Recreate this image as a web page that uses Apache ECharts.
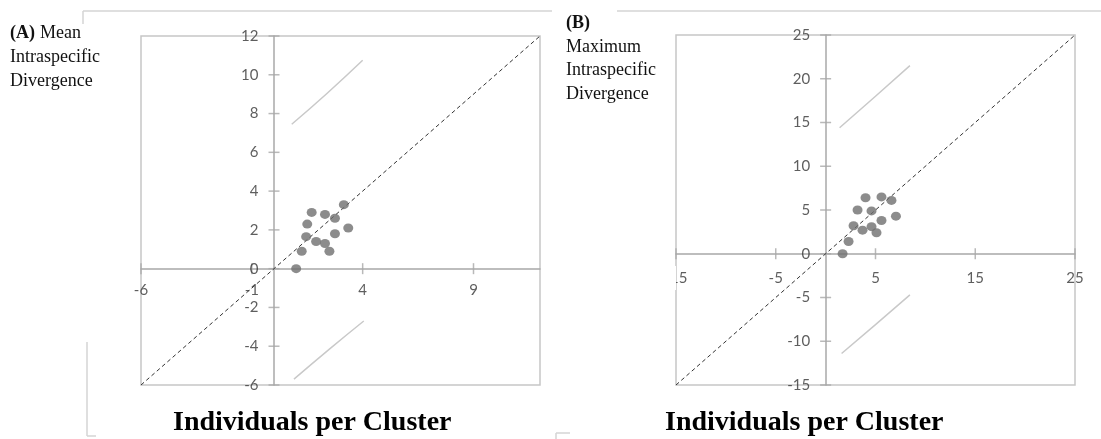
<!DOCTYPE html>
<html>
<head>
<meta charset="utf-8">
<script src="https://cdn.jsdelivr.net/npm/echarts@6/dist/echarts.min.js"></script>
<style>
  html, body { margin: 0; padding: 0; background: #fff; }
  #chart { width: 1101px; height: 439px; }
</style>
</head>
<body>
<div id="chart"></div>
<script>
// (A) mean intraspecific divergence vs individuals per cluster
const meanPoints = [[1.0, 0], [1.25, 0.9], [1.45, 1.65], [1.5, 2.3], [1.7, 2.9], [1.9, 1.4], [2.3, 2.8],
  [2.3, 1.3], [2.5, 0.9], [2.75, 2.6], [2.75, 1.8], [3.15, 3.3], [3.35, 2.1]];
const meanUpperBand = [[0.8, 7.45], [2.4, 9.05], [4.0, 10.75]];
const meanLowerBand = [[0.9, -5.7], [2.5, -4.15], [4.05, -2.7]];
const meanXTicks = [-6, -1, 4, 9];
const meanYTicks = [-6, -4, -2, 0, 2, 4, 6, 8, 10, 12];
const meanRange = [-6, 12];

// (B) maximum intraspecific divergence vs individuals per cluster
const maxPoints = [[1.7, 0], [2.3, 1.4], [2.8, 3.2], [3.2, 5.0], [3.7, 2.7], [4.0, 6.4], [4.6, 4.9],
  [4.6, 3.1], [5.1, 2.4], [5.6, 6.5], [5.6, 3.8], [6.6, 6.1], [7.05, 4.3]];
const maxUpperBand = [[1.4, 14.4], [5.0, 18.0], [8.45, 21.5]];
const maxLowerBand = [[1.6, -11.4], [5.0, -8.1], [8.45, -4.7]];
const maxXTicks = [-15, -5, 5, 15, 25];
const maxYTicks = [-15, -10, -5, 0, 5, 10, 15, 20, 25];
const maxRange = [-15, 25];

const xTitle = 'Individuals per Cluster';

const AXIS_COLOR = '#a8a8a8';
const LABEL_FONT = { fontFamily: 'Lato', fontSize: 15, color: '#363636' };

function makeAxes(idx, range, xTicks, yTicks) {
  const common = {
    gridIndex: idx, type: 'value', min: range[0], max: range[1],
    splitLine: { show: false }, axisTick: { show: false }, axisLabel: { show: false },
    axisLine: { onZero: true, lineStyle: { color: AXIS_COLOR, width: 1.5 } }
  };
  return {
    x: Object.assign({}, common, { interval: xTicks[1] - xTicks[0] }),
    y: Object.assign({}, common, { interval: yTicks[1] - yTicks[0] })
  };
}

function makeSeries(idx, range, points, upper, lower, xTicks, yTicks, xLabelGap) {
  const base = { xAxisIndex: idx, yAxisIndex: idx, silent: true, animation: false };
  return [
    // 1:1 reference line
    Object.assign({}, base, {
      type: 'line', data: [[range[0], range[0]], [range[1], range[1]]], symbol: 'none',
      lineStyle: { color: '#333', width: 1, type: [4, 3] }, z: 3
    }),
    Object.assign({}, base, {
      type: 'line', data: upper, symbol: 'none', smooth: true,
      lineStyle: { color: '#c9c9c9', width: 1.5 }, z: 2
    }),
    Object.assign({}, base, {
      type: 'line', data: lower, symbol: 'none', smooth: true,
      lineStyle: { color: '#c9c9c9', width: 1.5 }, z: 2
    }),
    // cross-style tick marks with their labels, sitting on the zero lines
    Object.assign({}, base, {
      type: 'scatter', data: xTicks.map(v => [v, 0]), symbol: 'rect', symbolSize: [1.5, 11],
      itemStyle: { color: AXIS_COLOR }, z: 1,
      label: Object.assign({ show: true, position: 'bottom', distance: xLabelGap,
        formatter: p => String(p.value[0]) }, LABEL_FONT)
    }),
    Object.assign({}, base, {
      type: 'scatter', data: yTicks.map(v => [0, v]), symbol: 'rect', symbolSize: [11, 1.5],
      itemStyle: { color: AXIS_COLOR }, z: 1,
      label: Object.assign({ show: true, position: 'left', distance: 10,
        formatter: p => String(p.value[1]) }, LABEL_FONT)
    }),
    Object.assign({}, base, {
      type: 'scatter', data: points, symbol: 'circle', symbolSize: [10, 9],
      itemStyle: { color: '#6f6f6f' }, z: 4
    })
  ];
}

const axA = makeAxes(0, meanRange, meanXTicks, meanYTicks);
const axB = makeAxes(1, maxRange, maxXTicks, maxYTicks);

const serif = '"Liberation Serif", "Times New Roman", serif';
function txt(x, y, text, opts) {
  return {
    type: 'text', x: x, y: y, z: 50, silent: true,
    style: Object.assign({ text: text, fill: '#111', font: '18px ' + serif, verticalAlign: 'middle', align: 'left' }, opts || {})
  };
}
function seg(x1, y1, x2, y2) {
  return { type: 'line', z: 0, silent: true, shape: { x1: x1, y1: y1, x2: x2, y2: y2 },
    style: { stroke: '#d4d4d4', lineWidth: 1.5 } };
}

const chart = echarts.init(document.getElementById('chart'), null, { renderer: 'canvas' });
chart.setOption({
  animation: false,
  backgroundColor: '#fff',
  grid: [
    { left: 141, top: 36, width: 399, height: 349, show: true, borderColor: '#c6c6c6', borderWidth: 1.5 },
    { left: 676, top: 35, width: 399, height: 350, show: true, borderColor: '#c6c6c6', borderWidth: 1.5 }
  ],
  xAxis: [axA.x, axB.x],
  yAxis: [axA.y, axB.y],
  series: [].concat(
    makeSeries(0, meanRange, meanPoints, meanUpperBand, meanLowerBand, meanXTicks, meanYTicks, 8),
    makeSeries(1, maxRange, maxPoints, maxUpperBand, maxLowerBand, maxXTicks, maxYTicks, 11)
  ),
  graphic: [
    // outer chart frames
    seg(83, 11, 83, 24), seg(83, 11, 552, 11), seg(617, 11, 1101, 11),
    seg(87, 342, 87, 436), seg(87, 436, 96, 436),
    seg(556, 433, 570, 433), seg(556, 433, 556, 439),
    // text box of panel B's caption, overlapping the leftmost x label
    { type: 'rect', z: 40, silent: true, shape: { x: 650, y: 266, width: 26, height: 24 }, style: { fill: '#fff' } },
    // panel captions
    txt(10, 33, '(A)', { font: 'bold 18px ' + serif }),
    txt(40, 33, 'Mean'),
    txt(10, 57, 'Intraspecific'),
    txt(10, 81, 'Divergence'),
    txt(566, 23, '(B)', { font: 'bold 18px ' + serif }),
    txt(566, 47, 'Maximum'),
    txt(566, 70, 'Intraspecific'),
    txt(566, 94, 'Divergence'),
    // x titles
    txt(173, 423, xTitle, { font: 'bold 28px ' + serif, fill: '#000' }),
    txt(665, 423, xTitle, { font: 'bold 28px ' + serif, fill: '#000' })
  ]
});
</script>
</body>
</html>
